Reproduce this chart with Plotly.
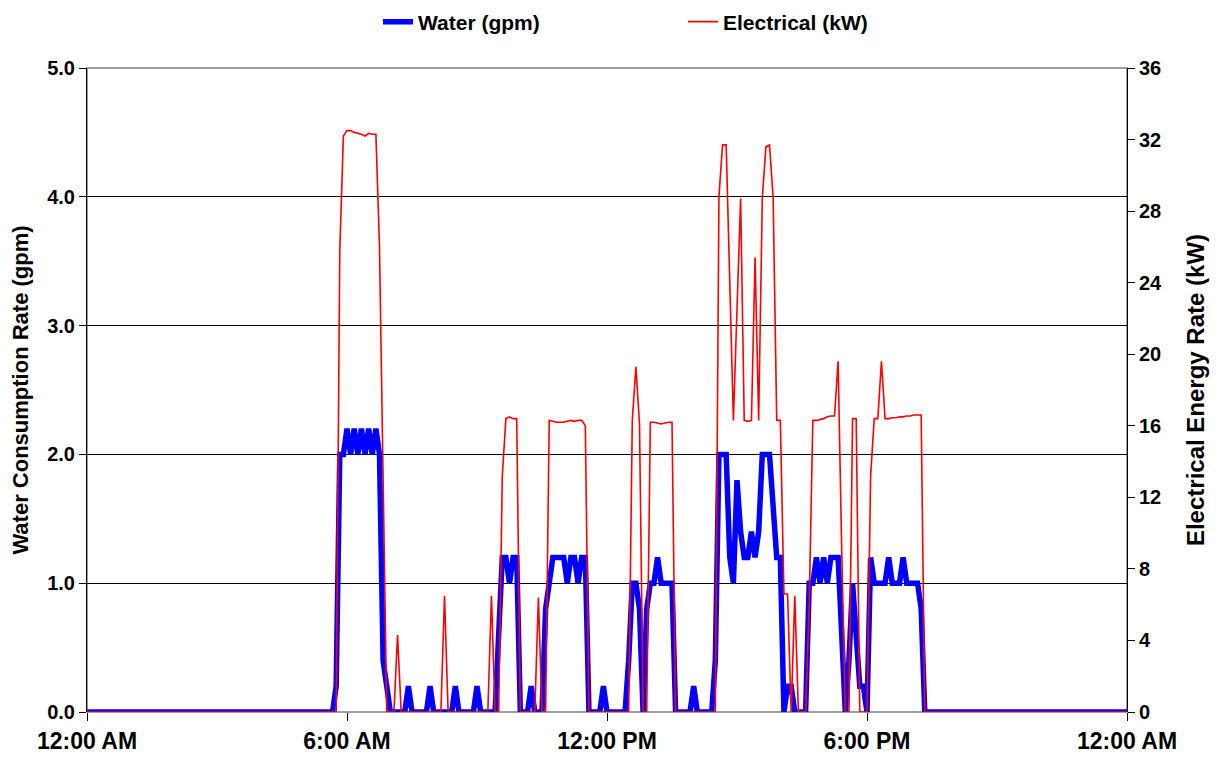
import plotly.graph_objects as go

# 5-minute samples, one row per hour (12 values), last value = midnight
water_gpm = (
    [0.0] * 12 * 5
    + [0, 0, 0, 0, 0, 0, 0, 0, 0, 0.2, 2.0, 2.0]                      # 5 AM
    + [2.2, 2.0, 2.2, 2.0, 2.2, 2.0, 2.2, 2.0, 2.2, 2.0, 0.4, 0.2]    # 6 AM
    + [0, 0, 0, 0, 0, 0.2, 0, 0, 0, 0, 0, 0.2]                        # 7 AM
    + [0, 0, 0, 0, 0, 0, 0.2, 0, 0, 0, 0, 0]                          # 8 AM
    + [0.2, 0, 0, 0, 0, 0, 0.6, 1.2, 1.2, 1.0, 1.2, 1.2]              # 9 AM
    + [0, 0, 0, 0.2, 0, 0, 0, 0.8, 1.0, 1.2, 1.2, 1.2]                # 10 AM
    + [1.2, 1.0, 1.2, 1.2, 1.0, 1.2, 1.2, 0, 0, 0, 0, 0.2]            # 11 AM
    + [0, 0, 0, 0, 0, 0, 0.4, 1.0, 1.0, 0.8, 0, 0.8]                  # 12 PM
    + [1.0, 1.0, 1.2, 1.0, 1.0, 1.0, 1.0, 0, 0, 0, 0, 0]              # 1 PM
    + [0.2, 0, 0, 0, 0, 0, 0.4, 2.0, 2.0, 2.0, 1.2, 1.0]              # 2 PM
    + [1.8, 1.4, 1.2, 1.2, 1.4, 1.2, 1.4, 2.0, 2.0, 2.0, 1.6, 1.2]    # 3 PM
    + [1.2, 0, 0.2, 0.2, 0, 0, 0, 0, 1.0, 1.0, 1.2, 1.0]              # 4 PM
    + [1.2, 1.0, 1.2, 1.2, 1.2, 0.6, 0, 0.4, 1.0, 0.6, 0.2, 0.2]      # 5 PM
    + [0, 1.2, 1.0, 1.0, 1.0, 1.0, 1.2, 1.0, 1.0, 1.0, 1.2, 1.0]      # 6 PM
    + [1.0, 1.0, 1.0, 0.8, 0, 0, 0, 0, 0, 0, 0, 0]                    # 7 PM
    + [0.0] * 12 * 4
    + [0.0]
)

electrical_kw = (
    [0.0] * 12 * 5
    + [0, 0, 0, 0, 0, 0, 0, 0, 0, 0, 25.8, 32.2]                                      # 5 AM
    + [32.5, 32.5, 32.4, 32.35, 32.3, 32.2, 32.35, 32.3, 32.3, 26.0, 13.0, 0]         # 6 AM
    + [0, 0, 4.3, 0, 0, 0, 0, 0, 0, 0, 0, 0]                                          # 7 AM
    + [0, 0, 0, 6.5, 0, 0, 0, 0, 0, 0, 0, 0]                                          # 8 AM
    + [0, 0, 0, 0, 6.5, 0, 0, 13.2, 16.4, 16.5, 16.4, 16.4]                           # 9 AM
    + [0, 0, 0, 0, 0, 6.4, 0, 0, 16.3, 16.25, 16.2, 16.2]                             # 10 AM
    + [16.2, 16.25, 16.3, 16.25, 16.3, 16.3, 16.0, 0, 0, 0, 0, 0]                     # 11 AM
    + [0, 0, 0, 0, 0, 0, 0, 16.3, 19.3, 16.1, 0, 0]                                   # 12 PM
    + [16.2, 16.2, 16.15, 16.1, 16.15, 16.2, 16.2, 0, 0, 0, 0, 0]                     # 1 PM
    + [0, 0, 0, 0, 0, 0, 0, 28.8, 31.7, 31.7, 24.0, 16.3]                             # 2 PM
    + [22.5, 28.7, 16.3, 16.25, 16.3, 25.4, 16.3, 28.7, 31.6, 31.7, 28.8, 16.3]       # 3 PM
    + [16.3, 6.6, 6.6, 0, 6.5, 0, 0, 0, 6.0, 16.3, 16.3, 16.35]                       # 4 PM
    + [16.4, 16.5, 16.55, 16.55, 19.6, 9.0, 0, 0, 16.4, 16.4, 0, 0]                   # 5 PM
    + [0, 13.2, 16.4, 16.4, 19.6, 16.4, 16.4, 16.45, 16.45, 16.5, 16.5, 16.55]        # 6 PM
    + [16.55, 16.6, 16.6, 16.6, 0, 0, 0, 0, 0, 0, 0, 0]                               # 7 PM
    + [0.0] * 12 * 4
    + [0.0]
)

hours = [i * 5 / 60 for i in range(len(water_gpm))]

x_tickvals = [0, 6, 12, 18, 24]
x_ticktext = ["12:00 AM", "6:00 AM", "12:00 PM", "6:00 PM", "12:00 AM"]

FONT = "Arial, Liberation Sans, sans-serif"

fig = go.Figure()
fig.add_trace(
    go.Scatter(
        x=hours, y=water_gpm, mode="lines", name="Water (gpm)",
        line=dict(color="#0000FF", width=5.5),
    )
)
fig.add_trace(
    go.Scatter(
        x=hours, y=electrical_kw, mode="lines", name="Electrical (kW)",
        line=dict(color="#FF0000", width=1.6), yaxis="y2",
    )
)

tick_font = dict(family=FONT, size=20, color="black", weight="bold")

# the page body adds an 8px margin, so the figure is 8px smaller each way
fig.update_layout(
    width=1212,
    height=754,
    margin=dict(l=79, r=93, t=60, b=50, autoexpand=False),
    paper_bgcolor="white",
    plot_bgcolor="white",
    font=dict(family=FONT, color="black"),
    showlegend=True,
    legend=dict(
        orientation="h",
        x=0.2798,
        xanchor="left",
        y=1.0714,
        yanchor="middle",
        font=dict(family=FONT, size=21, color="black", weight="bold"),
        entrywidth=260,
        entrywidthmode="pixels",
        bgcolor="rgba(0,0,0,0)",
    ),
    xaxis=dict(
        range=[0, 24],
        tickvals=x_tickvals,
        ticktext=x_ticktext,
        ticks="outside",
        ticklen=8,
        tickcolor="black",
        showgrid=False,
        zeroline=False,
        showline=False,
        tickfont=dict(family=FONT, size=23, color="black", weight="bold"),
    ),
    yaxis=dict(
        range=[0, 5],
        dtick=1,
        tickformat=".1f",
        ticks="outside",
        ticklen=7,
        tickcolor="black",
        showgrid=True,
        gridcolor="black",
        gridwidth=1,
        zeroline=False,
        showline=True,
        linecolor="black",
        linewidth=1,
        tickfont=tick_font,
        title=dict(
            text="Water Consumption Rate (gpm)",
            font=dict(family=FONT, size=22, color="black", weight="bold"),
            standoff=21,
        ),
    ),
    yaxis2=dict(
        range=[0, 36],
        dtick=4,
        overlaying="y",
        side="right",
        ticks="outside",
        ticklen=7,
        tickcolor="black",
        showgrid=False,
        zeroline=False,
        showline=True,
        linecolor="black",
        linewidth=1,
        tickfont=tick_font,
        title=dict(
            text="Electrical Energy Rate (kW)",
            font=dict(family=FONT, size=24, color="black", weight="bold"),
            standoff=26,
        ),
    ),
    shapes=[
        dict(
            type="rect", xref="paper", yref="paper", x0=0, x1=1, y0=0, y1=1,
            line=dict(color="#808080", width=1.5), layer="between",
        )
    ],
)

fig.write_html("out.html")
